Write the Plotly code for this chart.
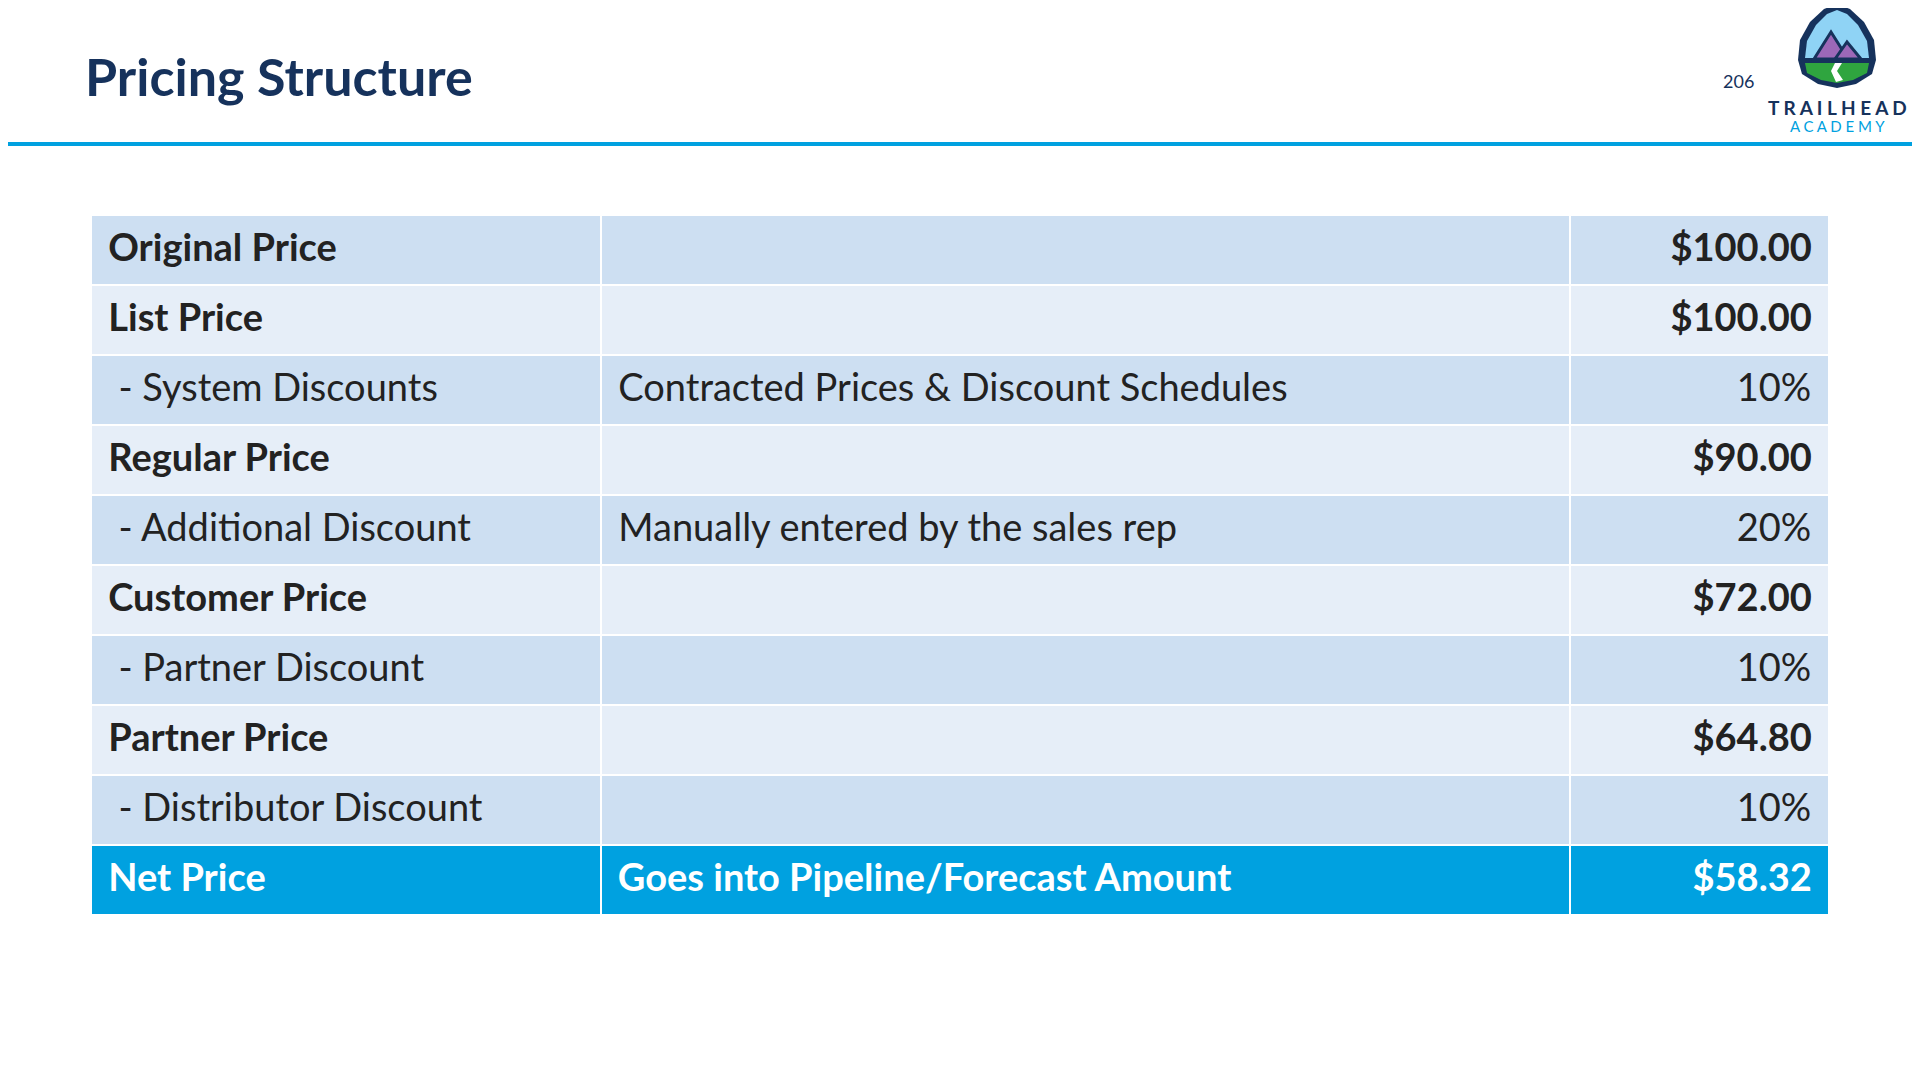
import plotly.graph_objects as go

labels = ["Original Price", "List Price", " - System Discounts", "Regular Price", " - Additional Discount",
          "Customer Price", " - Partner Discount", "Partner Price", " - Distributor Discount", "Net Price"]
notes = ["", "", "Contracted Prices & Discount Schedules", "", "Manually entered by the sales rep",
         "", "", "", "", "Goes into Pipeline/Forecast Amount"]
amounts = ["$100.00", "$100.00", "10%", "$90.00", "20%", "$72.00", "10%", "$64.80", "10%", "$58.32"]
is_total = [True, True, False, True, False, True, False, True, False, True]

W, H = 1920, 1080
OFF = 8  # page body margin
DARK = "#16325c"
BLUE = "#00a1e0"


def fmt(s, bold):
    s = s.replace("&", "&amp;").replace(" - ", "&nbsp;- ")
    s = "&nbsp;" + s + "&nbsp;"
    return f"<b>{s}</b>" if bold else f"<span>{s}</span>"


col1 = [fmt(l, b) for l, b in zip(labels, is_total)]
col2 = [fmt(n, i == len(notes) - 1) for i, n in enumerate(notes)]
col3 = [fmt(a, b) for a, b in zip(amounts, is_total)]

fills = []
for i in range(len(labels)):
    if i == len(labels) - 1:
        fills.append(BLUE)
    else:
        fills.append("#cddff2" if i % 2 == 0 else "#e6eef8")
fcolors = ["white" if i == len(labels) - 1 else "#222222" for i in range(len(labels))]


def px(x, y):
    return (x - OFF) / W, 1 - (y - OFF) / H


fig = go.Figure(go.Table(
    columnwidth=[509, 968, 259],
    domain=dict(x=[px(91, 0)[0], px(1829, 0)[0]], y=[0, px(0, 215)[1]]),
    header=dict(values=[col1[0], col2[0], col3[0]], fill_color=fills[0], height=70,
                line=dict(color="white", width=2), align=["left", "left", "right"],
                font=dict(family="Lato", size=38, color=fcolors[0])),
    cells=dict(values=[col1[1:], col2[1:], col3[1:]], fill_color=[fills[1:]] * 3, height=70,
               line=dict(color="white", width=2), align=["left", "left", "right"],
               font=dict(family="Lato", size=38, color=[fcolors[1:]] * 3)),
))

shapes = [dict(type="line", xref="paper", yref="paper", x0=0, x1=1, y0=px(0, 144)[1], y1=px(0, 144)[1],
               line=dict(color=BLUE, width=4))]


def path(pts):
    return "M " + " L ".join(f"{px(x, y)[0]},{px(x, y)[1]}" for x, y in pts) + " Z"


# logo shield
shield = [(1798, 60), (1800, 40), (1810, 22), (1824, 9), (1837, 4), (1850, 9), (1864, 22), (1874, 40),
          (1876, 60), (1872, 74), (1856, 84), (1837, 88), (1818, 84), (1802, 74)]
sky = [(1805, 58), (1807, 41), (1816, 25), (1827, 14), (1837, 10), (1847, 14), (1858, 25), (1867, 41), (1869, 58)]
grass = [(1805, 63), (1869, 63), (1867, 73), (1853, 80), (1837, 83), (1821, 80), (1807, 73)]
m1 = [(1814, 59), (1831, 32), (1848, 59)]
m2 = [(1835, 59), (1847, 42), (1861, 59)]
for p, c, lw in [(shield, DARK, 0), (sky, "#8fd3f5", 0), (grass, "#2fa53f", 0), (m1, "#9c68b8", 3), (m2, "#9c68b8", 3)]:
    shapes.append(dict(type="path", xref="paper", yref="paper", path=path(p), fillcolor=c,
                       line=dict(color=DARK, width=lw)))
shapes.append(dict(type="path", xref="paper", yref="paper",
                   path=path([(1835, 63), (1842, 63), (1837, 71), (1843, 80), (1836, 82), (1831, 71)]),
                   fillcolor="white", line=dict(width=0)))


def note(text, x, y, size, color, anchor="center"):
    return dict(text=text, x=px(x, 0)[0], y=px(0, y)[1], xref="paper", yref="paper",
                xanchor=anchor, yanchor="middle", showarrow=False,
                font=dict(family="Lato", size=size, color=color))


fig.update_layout(
    width=W, height=H, margin=dict(l=0, r=0, t=0, b=0),
    paper_bgcolor="white", plot_bgcolor="white", shapes=shapes,
    annotations=[
        note("<b>Pricing Structure</b>", 83, 76, 52, DARK, "left"),
        note("206", 1738, 81, 18, DARK),
        note("<b>T R A I L H E A D</b>", 1837, 108, 19, DARK),
        note("A C A D E M Y", 1837, 126, 15, BLUE),
    ],
)
fig.write_html("out.html")
